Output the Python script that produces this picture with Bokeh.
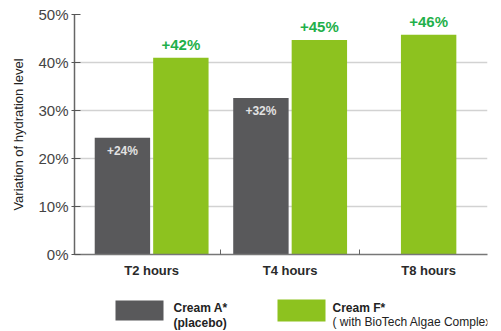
import numpy as np
from bokeh.plotting import figure
from bokeh.models import Range1d, FixedTicker, PrintfTickFormatter, ColumnDataSource, Label
from bokeh.layouts import column
from bokeh.core.properties import value
from bokeh.embed import file_html
from bokeh.resources import INLINE

# ---- data ----
categories = ["T2 hours", "T4 hours", "T8 hours"]
cream_a = [24.3, 32.6, None]          # Cream A* (placebo)
cream_f = [41.0, 44.7, 45.8]          # Cream F* (with BioTech Algae Complex)
labels_a = ["+24%", "+32%", None]
labels_f = ["+42%", "+45%", "+46%"]
y_ticks = [0, 10, 20, 30, 40, 50]
series_names = ["Cream A*", "Cream F*"]
series_notes = ["(placebo)", "( with BioTech Algae Complex)"]

DARK = "#59595b"
GREEN = "#8dc21f"
GREEN_TXT = "#1fb04b"
FONT = "Liberation Sans"

# ---- positions derived from category indices ----
idx = np.arange(len(categories))
has_a = np.array([v is not None for v in cream_a])
OFF = 0.211
BW = 0.40

src_a = ColumnDataSource(dict(
    x=idx[has_a] - OFF,
    top=[v for v in cream_a if v is not None],
    lab=[l for l in labels_a if l is not None],
))
src_f = ColumnDataSource(dict(
    x=np.where(has_a, idx + OFF, idx),
    top=cream_f,
    lab=labels_f,
))

W, H_MAIN, H_ALL = 501, 280, 331
BL, BR, BT, BB = 74, 14, 14, 26

p = figure(width=W, height=H_MAIN, output_backend="svg", toolbar_location=None,
           x_range=Range1d(-0.557, 2.425), y_range=Range1d(0, 50),
           min_border_left=BL, min_border_right=BR, min_border_top=BT, min_border_bottom=BB)
p.outline_line_color = None
p.background_fill_color = "white"
p.xgrid.grid_line_color = None
p.ygrid.grid_line_color = "#d2d2d2"
p.ygrid.grid_line_width = 1.5
p.ygrid.ticker = FixedTicker(ticks=y_ticks)

p.vbar(x="x", top="top", bottom=0, width=BW, source=src_a, fill_color=DARK, line_color=None)
p.vbar(x="x", top="top", bottom=0, width=BW, source=src_f, fill_color=GREEN, line_color=None)

p.text(x="x", y="top", text="lab", source=src_a, text_color="#e2e2e2",
       text_font=value(FONT), text_font_style="bold", text_font_size="12px",
       text_align="center", text_baseline="middle", y_offset=13)
p.text(x="x", y="top", text="lab", source=src_f, text_color=GREEN_TXT,
       text_font=value(FONT), text_font_style="bold", text_font_size="15px",
       text_align="center", text_baseline="bottom", y_offset=-5)

# y axis
ya = p.yaxis[0]
ya.ticker = FixedTicker(ticks=y_ticks)
ya.formatter = PrintfTickFormatter(format="%d%%")
ya.axis_label = "Variation of hydration level"
ya.axis_label_text_font = FONT
ya.axis_label_text_font_style = "normal"
ya.axis_label_text_font_size = "13px"
ya.axis_label_text_color = "#222222"
ya.axis_label_standoff = 9
ya.major_label_text_font = FONT
ya.major_label_text_font_size = "15px"
ya.major_label_text_color = "#444444"
ya.major_label_standoff = 3
ya.major_tick_in = 6
ya.major_tick_out = 3
ya.major_tick_line_color = "#555555"
ya.minor_tick_line_color = None
ya.axis_line_color = "#666666"
ya.axis_line_width = 1.5

# x axis
xa = p.xaxis[0]
xa.ticker = FixedTicker(ticks=list(idx), minor_ticks=list(idx[:-1] + 0.5))
xa.major_label_overrides = {int(i): c for i, c in zip(idx, categories)}
xa.major_label_text_font = FONT
xa.major_label_text_font_style = "bold"
xa.major_label_text_font_size = "13px"
xa.major_label_text_color = "#2a2a2a"
xa.major_label_standoff = 8
xa.major_tick_line_color = None
xa.major_tick_in = 0
xa.major_tick_out = 0
xa.minor_tick_in = 5
xa.minor_tick_out = 0
xa.minor_tick_line_color = "#666666"
xa.axis_line_color = "#777777"
xa.axis_line_width = 1.5

# ---- legend as its own small figure (data coords == page pixels) ----
H_LG = H_ALL - H_MAIN
lg = figure(width=W, height=H_LG, output_backend="svg", toolbar_location=None,
            x_range=Range1d(BL, W - BR), y_range=Range1d(H_ALL, H_MAIN),
            min_border_left=BL, min_border_right=BR, min_border_top=0, min_border_bottom=0)
lg.axis.visible = False
lg.grid.visible = False
lg.outline_line_color = None

sw = ColumnDataSource(dict(left=[115, 277], right=[163, 325], top=[300, 299], bottom=[320, 321],
                           color=[DARK, GREEN]))
lg.quad(left="left", right="right", top="top", bottom="bottom", source=sw,
        fill_color="color", line_color=None)

legend_text = [
    (173, 307, series_names[0], "bold"),
    (173, 322, series_notes[0], "bold"),
    (332, 307, series_names[1], "bold"),
    (332, 321, series_notes[1], "normal"),
]
for x, y, t, style in legend_text:
    lg.add_layout(Label(x=x, y=y, text=t, text_color="#222222", text_font=FONT,
                        text_font_style=style, text_font_size="12px", text_baseline="middle"))

layout = column(p, lg, spacing=0)
open("out.html", "w").write(file_html(layout, INLINE))
